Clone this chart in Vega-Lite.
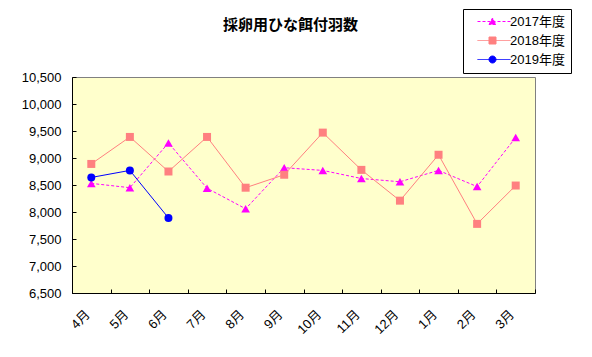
{
  "$schema": "https://vega.github.io/schema/vega-lite/v6.json",
  "width": 463,
  "height": 216,
  "autosize": {"type": "none"},
  "padding": {"left": 72, "top": 77, "right": 57, "bottom": 64},
  "background": "white",
  "title": {
    "text": "採卵用ひな餌付羽数",
    "font": "Noto Sans CJK JP",
    "fontSize": 15,
    "fontWeight": "bold",
    "color": "black",
    "anchor": "middle",
    "dx": -13,
    "offset": -39,
    "baseline": "bottom"
  },
  "config": {
    "view": {"fill": "#FFFFCC", "stroke": "#808080", "strokeWidth": 1},
    "axis": {
      "labelFont": "Liberation Sans, Noto Sans CJK JP",
      "labelFontSize": 13,
      "labelColor": "black",
      "domainColor": "black",
      "tickColor": "black",
      "grid": false,
      "title": null
    }
  },
  "data": {
    "values": [
      {"month": "4月", "series": "2017年度", "value": 8530},
      {"month": "5月", "series": "2017年度", "value": 8450},
      {"month": "6月", "series": "2017年度", "value": 9280},
      {"month": "7月", "series": "2017年度", "value": 8440},
      {"month": "8月", "series": "2017年度", "value": 8060},
      {"month": "9月", "series": "2017年度", "value": 8820},
      {"month": "10月", "series": "2017年度", "value": 8770},
      {"month": "11月", "series": "2017年度", "value": 8620},
      {"month": "12月", "series": "2017年度", "value": 8560},
      {"month": "1月", "series": "2017年度", "value": 8770},
      {"month": "2月", "series": "2017年度", "value": 8470},
      {"month": "3月", "series": "2017年度", "value": 9380},
      {"month": "4月", "series": "2018年度", "value": 8890},
      {"month": "5月", "series": "2018年度", "value": 9390},
      {"month": "6月", "series": "2018年度", "value": 8750},
      {"month": "7月", "series": "2018年度", "value": 9390},
      {"month": "8月", "series": "2018年度", "value": 8450},
      {"month": "9月", "series": "2018年度", "value": 8690},
      {"month": "10月", "series": "2018年度", "value": 9470},
      {"month": "11月", "series": "2018年度", "value": 8780},
      {"month": "12月", "series": "2018年度", "value": 8210},
      {"month": "1月", "series": "2018年度", "value": 9060},
      {"month": "2月", "series": "2018年度", "value": 7780},
      {"month": "3月", "series": "2018年度", "value": 8490},
      {"month": "4月", "series": "2019年度", "value": 8640},
      {"month": "5月", "series": "2019年度", "value": 8770},
      {"month": "6月", "series": "2019年度", "value": 7890}
    ]
  },
  "encoding": {
    "x": {
      "field": "month",
      "type": "nominal",
      "sort": ["4月", "5月", "6月", "7月", "8月", "9月", "10月", "11月", "12月", "1月", "2月", "3月"],
      "scale": {"type": "band", "paddingInner": 0, "paddingOuter": 0},
      "axis": {
        "labelAngle": -45,
        "labelAlign": "right",
        "labelBaseline": "middle",
        "labelPadding": 23,
        "labelOffset": -4,
        "tickSize": -4,
        "tickBand": "extent"
      }
    },
    "y": {
      "field": "value",
      "type": "quantitative",
      "scale": {"domain": [6500, 10500], "nice": false, "zero": false},
      "axis": {
        "values": [6500, 7000, 7500, 8000, 8500, 9000, 9500, 10000, 10500],
        "format": ",.0f",
        "tickSize": -4,
        "labelPadding": 15
      }
    }
  },
  "layer": [
    {
      "transform": [{"filter": "datum.series === '2017年度'"}],
      "mark": {"type": "line", "strokeWidth": 1, "color": "#FF00FF", "strokeDash": [3, 2]},
      "encoding": {}
    },
    {
      "transform": [{"filter": "datum.series === '2017年度'"}],
      "mark": {"type": "point", "filled": true, "size": 75, "opacity": 1, "strokeWidth": 0, "shape": "triangle-up", "color": "#FF00FF"},
      "encoding": {}
    },
    {
      "transform": [{"filter": "datum.series === '2018年度'"}],
      "mark": {"type": "line", "strokeWidth": 1, "color": "#FF8080"},
      "encoding": {}
    },
    {
      "transform": [{"filter": "datum.series === '2018年度'"}],
      "mark": {"type": "point", "filled": true, "size": 64, "opacity": 1, "strokeWidth": 0, "shape": "square", "color": "#FF8080"},
      "encoding": {}
    },
    {
      "transform": [{"filter": "datum.series === '2019年度'"}],
      "mark": {"type": "line", "strokeWidth": 1, "color": "#0000FF"},
      "encoding": {}
    },
    {
      "transform": [{"filter": "datum.series === '2019年度'"}],
      "mark": {"type": "point", "filled": true, "size": 64, "opacity": 1, "strokeWidth": 0, "shape": "circle", "color": "#0000FF"},
      "encoding": {}
    },
    {
      "transform": [{"filter": "datum.value < 0"}],
      "mark": {"type": "point", "filled": true, "opacity": 1, "strokeWidth": 1},
      "encoding": {
        "fill": {
          "field": "series",
          "type": "nominal",
          "scale": {"domain": ["2017年度", "2018年度", "2019年度"], "range": ["#FF00FF", "#FF8080", "#0000FF"]},
          "legend": {
            "title": null,
            "orient": "none",
            "legendX": 391,
            "legendY": -68,
            "padding": 6,
            "strokeColor": "black",
            "fillColor": "white",
            "symbolSize": 100,
            "symbolStrokeWidth": 1,
            "symbolOpacity": 1,
            "rowPadding": 5,
            "labelOffset": 28,
            "labelFont": "Liberation Sans, Noto Sans CJK JP",
            "labelFontSize": 13,
            "labelColor": "black"
          }
        },
        "stroke": {
          "field": "series",
          "type": "nominal",
          "scale": {"domain": ["2017年度", "2018年度", "2019年度"], "range": ["#FF00FF", "#FF8080", "#0000FF"]},
          "legend": {"title": null, "orient": "none", "legendX": 391, "legendY": -68}
        },
        "shape": {
          "field": "series",
          "type": "nominal",
          "scale": {
            "domain": ["2017年度", "2018年度", "2019年度"],
            "range": [
              "M0.4,0H7M2.7,0.6L3.4,-0.7L4.1,0.6Z",
              "M0.4,0H7M2.7,-0.7H4.1V0.7H2.7Z",
              "M0.4,0H7M2.7,0A0.7,0.7 0 1,1 4.1,0A0.7,0.7 0 1,1 2.7,0Z"
            ]
          },
          "legend": {"title": null, "orient": "none", "legendX": 391, "legendY": -68}
        },
        "strokeDash": {
          "field": "series",
          "type": "nominal",
          "scale": {"domain": ["2017年度", "2018年度", "2019年度"], "range": [[3, 2], [1, 0], [1, 0]]},
          "legend": {"title": null, "orient": "none", "legendX": 391, "legendY": -68}
        }
      }
    }
  ]
}
